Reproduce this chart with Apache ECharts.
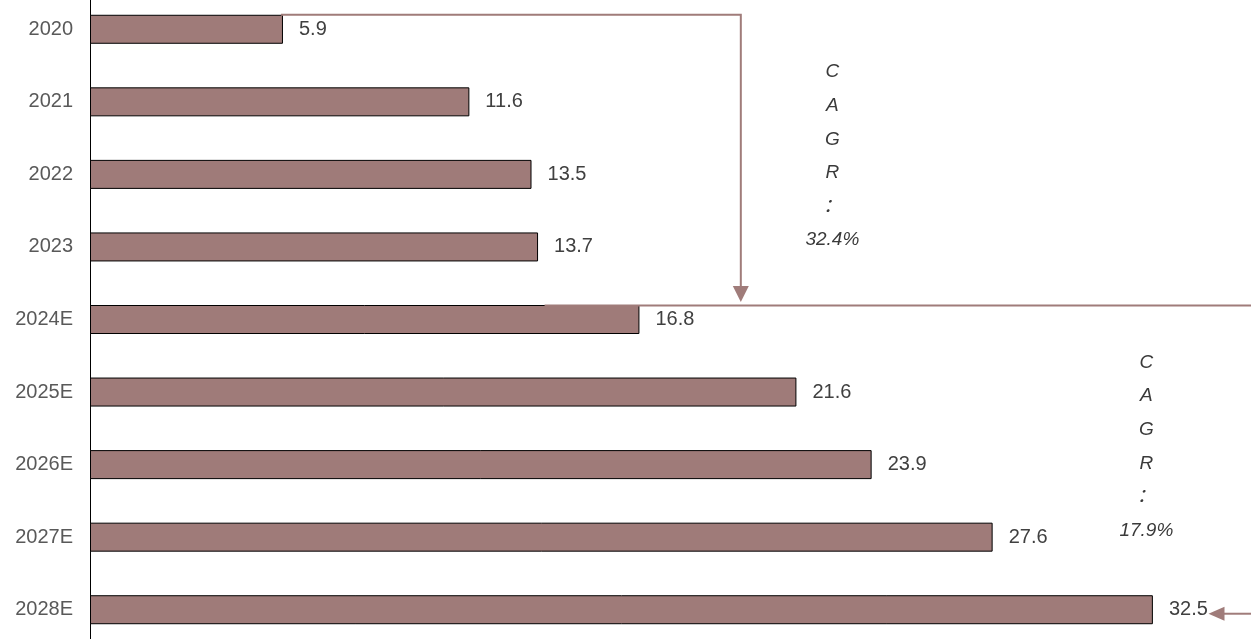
<!DOCTYPE html>
<html>
<head>
<meta charset="utf-8">
<script src="https://cdn.jsdelivr.net/npm/echarts@6/dist/echarts.min.js"></script>
<style>
  html, body { margin: 0; padding: 0; background: #fff; }
  #chart { width: 1251px; height: 639px; }
</style>
</head>
<body>
<div id="chart"></div>
<script>
// Market size by year (actual + estimates)
const years = ['2020', '2021', '2022', '2023', '2024E', '2025E', '2026E', '2027E', '2028E'];
const values = [5.9, 11.6, 13.5, 13.7, 16.8, 21.6, 23.9, 27.6, 32.5];

// Growth-rate callouts
const cagrHistoric = '32.4%';
const cagrForecast = '17.9%';

const barColor = '#9f7b79';
const arrowColor = '#a07c7a';
const barWidth = 29;
const fontFamily = '"Liberation Sans", Arial, sans-serif';

const chart = echarts.init(document.getElementById('chart'), null, { renderer: 'canvas' });

chart.setOption({
  animation: false,
  grid: {
    left: 90, right: 0, top: -7, height: 653,
    containLabel: false,
    outerBoundsMode: 'none'
  },
  xAxis: {
    type: 'value',
    min: 0,
    max: 35.5,
    show: false
  },
  yAxis: {
    type: 'category',
    data: years,
    inverse: true,
    axisLine: { show: true, lineStyle: { color: '#000', width: 1 } },
    axisTick: { show: false },
    axisLabel: {
      color: '#595959',
      fontSize: 20,
      fontFamily: fontFamily,
      margin: 17
    }
  },
  series: [{
    type: 'bar',
    data: values,
    barWidth: barWidth,
    itemStyle: { color: barColor, borderColor: '#000', borderWidth: 1 },
    label: {
      show: true,
      position: 'right',
      distance: 16,
      color: '#404040',
      fontSize: 20,
      fontFamily: fontFamily
    },
    z: 2
  }]
});

// Callout lines, arrows and CAGR text, placed via the axis scales
function px(v, cat) {
  return chart.convertToPixel({ seriesIndex: 0 }, [v, cat]);
}

const W = chart.getWidth();
const half = barWidth / 2;
const start = px(values[0], years[0]);
const topY = start[1] - half;
const turnX = px(19.9, years[0])[0];
const p24 = px(13.9, years[4]);
const y24 = p24[1] - half;
const p28 = px(34.2, years[8]);
const y28 = p28[1] + 4;

const lineStyle = { stroke: arrowColor, lineWidth: 2 };
const lineH = 33.6;

function textBlock(x, centerY, pct) {
  return {
    type: 'text',
    x: x,
    y: centerY - lineH / 2,
    style: {
      text: ['C', 'A', 'G', 'R', '：', pct].join('\n'),
      align: 'center',
      verticalAlign: 'top',
      fill: '#3a3a3a',
      fontSize: 19,
      fontStyle: 'italic',
      fontFamily: '"Liberation Sans", "Noto Sans CJK SC", sans-serif',
      lineHeight: lineH
    },
    z: 10
  };
}

function midY(i) {
  return (px(0, years[i])[1] + px(0, years[i + 1])[1]) / 2;
}

chart.setOption({
  graphic: [
    {
      type: 'polyline',
      shape: { points: [[start[0] - 2, topY], [turnX, topY], [turnX, y24 - 18]] },
      style: lineStyle,
      z: 5
    },
    {
      type: 'polygon',
      shape: { points: [[turnX - 8, y24 - 19], [turnX + 8, y24 - 19], [turnX, y24 - 3]] },
      style: { fill: arrowColor },
      z: 5
    },
    {
      type: 'line',
      shape: { x1: p24[0], y1: y24 + 0.5, x2: W, y2: y24 + 0.5 },
      style: lineStyle,
      z: 5
    },
    {
      type: 'line',
      shape: { x1: p28[0] + 14, y1: y28, x2: W, y2: y28 },
      style: lineStyle,
      z: 5
    },
    {
      type: 'polygon',
      shape: { points: [[p28[0], y28], [p28[0] + 16, y28 - 7], [p28[0] + 16, y28 + 7]] },
      style: { fill: arrowColor },
      z: 5
    },
    textBlock(px(22.7, years[0])[0], midY(0) + 6.5, cagrHistoric),
    textBlock(px(32.3, years[4])[0], midY(4) + 6.8, cagrForecast)
  ]
});
</script>
</body>
</html>
